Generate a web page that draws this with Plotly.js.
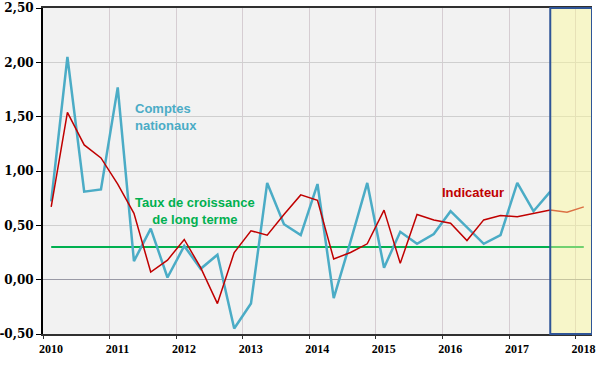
<!DOCTYPE html>
<html>
<head>
<meta charset="utf-8">
<script src="https://cdn.plot.ly/plotly-3.0.1.min.js"></script>
<style>html,body{margin:0;padding:0;background:#fff;}#chart{width:600px;height:371px;}</style>
</head>
<body>
<div id="chart"></div>
<script>
// Quarterly dates (mid-quarter), 2010 T1 .. 2018 T1
const quarters = [
  '2010-02-15','2010-05-15','2010-08-15','2010-11-15',
  '2011-02-15','2011-05-15','2011-08-15','2011-11-15',
  '2012-02-15','2012-05-15','2012-08-15','2012-11-15',
  '2013-02-15','2013-05-15','2013-08-15','2013-11-15',
  '2014-02-15','2014-05-15','2014-08-15','2014-11-15',
  '2015-02-15','2015-05-15','2015-08-15','2015-11-15',
  '2016-02-15','2016-05-15','2016-08-15','2016-11-15',
  '2017-02-15','2017-05-15','2017-08-15','2017-11-15',
  '2018-02-15'
];

// Comptes nationaux (2010 T1 .. 2017 T3)
const comptesNationaux = [
  0.72, 2.05, 0.81, 0.83,
  1.77, 0.17, 0.47, 0.02,
  0.31, 0.10, 0.23, -0.45,
  -0.22, 0.89, 0.51, 0.41,
  0.88, -0.17, 0.35, 0.89,
  0.11, 0.44, 0.33, 0.42,
  0.63, 0.48, 0.33, 0.41,
  0.89, 0.63, 0.81
];

// Indicateur (2010 T1 .. 2018 T1)
const indicateur = [
  0.67, 1.54, 1.24, 1.12,
  0.88, 0.61, 0.07, 0.18,
  0.37, 0.11, -0.22, 0.25,
  0.45, 0.41, 0.60, 0.78,
  0.73, 0.19, 0.25, 0.33,
  0.64, 0.15, 0.60, 0.55,
  0.52, 0.36, 0.55, 0.59,
  0.58, 0.61, 0.64, 0.62, 0.67
];

// Taux de croissance de long terme
const longTermDates = ['2010-02-15', '2018-02-15'];
const longTermRate = [0.30, 0.30];

// Forecast zone
const forecastStart = '2017-08-15';
const forecastEnd = '2018-04-01';

// Axis ticks
const yTickVals = [-0.5, 0, 0.5, 1, 1.5, 2, 2.5];
const yTickText = ['-0,50', '0,00', '0,50', '1,00', '1,50', '2,00', '2,50'];

const traces = [
  {
    x: longTermDates, y: longTermRate, type: 'scatter', mode: 'lines',
    line: {color: '#00b050', width: 2}, hoverinfo: 'skip'
  },
  {
    x: quarters.slice(0, comptesNationaux.length), y: comptesNationaux,
    type: 'scatter', mode: 'lines', line: {color: '#4bacc6', width: 2.5}
  },
  {
    x: quarters.slice(0, indicateur.length), y: indicateur,
    type: 'scatter', mode: 'lines', line: {color: '#c00000', width: 1.5}
  }
];

const layout = {
  width: 600, height: 371,
  margin: {l: 43, r: 8, t: 8, b: 37},
  paper_bgcolor: '#ffffff',
  plot_bgcolor: '#f2f2f2',
  showlegend: false,
  xaxis: {
    type: 'date',
    range: ['2010-01-01', '2018-04-01'],
    tick0: '2010-01-01', dtick: 'M12', tickformat: '%Y',
    ticklabelshift: 8,
    showgrid: true, gridcolor: '#d6cdd2', gridwidth: 1,
    showline: true, linecolor: '#303030', linewidth: 2, mirror: true,
    ticks: 'outside', ticklen: 3, tickcolor: '#303030',
    tickfont: {family: 'Liberation Serif', size: 12, color: '#000', weight: 'bold'},
    zeroline: false
  },
  yaxis: {
    range: [-0.5, 2.5],
    tickvals: yTickVals, ticktext: yTickText,
    showgrid: true, gridcolor: '#cfcfcf', gridwidth: 1,
    zeroline: true, zerolinecolor: '#9a9aa6', zerolinewidth: 1,
    showline: true, linecolor: '#000', linewidth: 2,
    ticks: 'outside', ticklen: 5, tickcolor: '#000',
    tickfont: {family: 'DejaVu Serif', size: 12, color: '#000', weight: 'bold'}
  },
  shapes: [
    {
      type: 'rect', xref: 'x', yref: 'paper',
      x0: forecastStart, x1: forecastEnd, y0: 0, y1: 1,
      fillcolor: 'rgba(252,250,150,0.45)',
      line: {color: '#2f5597', width: 2},
      layer: 'above'
    }
  ],
  annotations: [
    {
      x: '2011-05-08', y: 1.50, xref: 'x', yref: 'y',
      text: 'Comptes<br>nationaux', showarrow: false,
      xanchor: 'left', yanchor: 'middle', align: 'left',
      font: {family: 'Liberation Sans', size: 13, color: '#4bacc6', weight: 'bold'}
    },
    {
      x: '2012-04-13', y: 0.63, xref: 'x', yref: 'y',
      text: 'Taux de croissance<br>de long terme', showarrow: false,
      xanchor: 'center', yanchor: 'middle', align: 'center',
      font: {family: 'Liberation Sans', size: 13, color: '#00b050', weight: 'bold'}
    },
    {
      x: '2016-06-17', y: 0.80, xref: 'x', yref: 'y',
      text: 'Indicateur', showarrow: false,
      xanchor: 'center', yanchor: 'middle',
      font: {family: 'Liberation Sans', size: 13, color: '#c00000', weight: 'bold'}
    }
  ]
};

Plotly.newPlot('chart', traces, layout, {displayModeBar: false, staticPlot: true});
</script>
</body>
</html>
